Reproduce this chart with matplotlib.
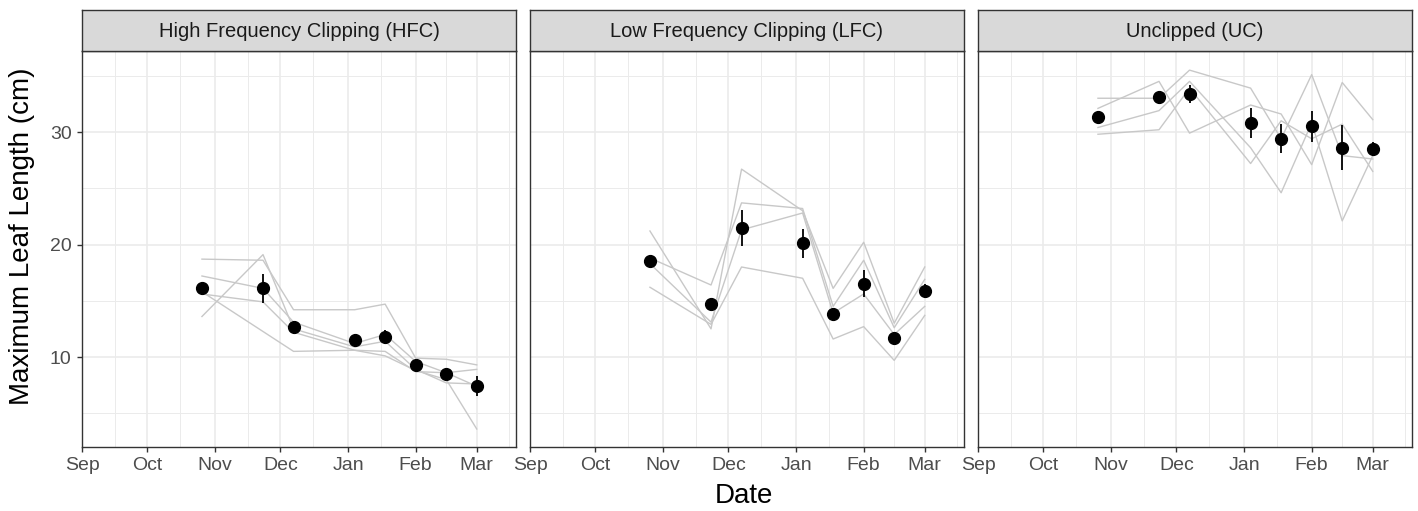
import matplotlib
matplotlib.use("Agg")
import matplotlib.pyplot as plt
import matplotlib.dates as mdates
import numpy as np
import pandas as pd

plt.rcParams["font.family"] = ["Liberation Sans", "DejaVu Sans"]

# sampling dates
dates = pd.to_datetime(["2017-10-26", "2017-11-23", "2017-12-07", "2018-01-04",
                        "2018-01-18", "2018-02-01", "2018-02-15", "2018-03-01"])

treatments = ["High Frequency Clipping (HFC)", "Low Frequency Clipping (LFC)", "Unclipped (UC)"]

# treatment means and standard errors
hfc_mean = [16.1, 16.1, 12.7, 11.5, 11.8, 9.3, 8.5, 7.4]
hfc_se = [0.5, 1.3, 0.4, 0.5, 0.6, 0.3, 0.3, 0.9]
lfc_mean = [18.5, 14.7, 21.5, 20.1, 13.8, 16.5, 11.7, 15.9]
lfc_se = [0.6, 0.5, 1.6, 1.3, 0.6, 1.2, 0.5, 0.6]
uc_mean = [31.3, 33.1, 33.4, 30.8, 29.4, 30.5, 28.6, 28.5]
uc_se = [0.4, 0.5, 0.8, 1.3, 1.3, 1.4, 2.0, 0.6]

# individual replicate traces (nan = not measured)
hfc_reps = [
    [18.7, 18.6, 14.2, 14.2, 14.7, 9.9, 9.8, 9.3],
    [17.2, 16.1, 13.1, 11.2, 12.0, 9.6, 8.6, 8.9],
    [13.6, 19.1, 12.5, 10.9, 11.4, 8.9, 7.7, 7.6],
    [15.6, 14.9, 12.2, 10.6, 10.5, 8.7, 8.6, 7.4],
    [15.8, np.nan, 10.5, 10.6, 10.1, 8.8, 8.0, 3.6],
]
lfc_reps = [
    [21.2, 12.5, 26.7, 23.0, 16.1, 20.2, 13.0, 18.0],
    [18.8, 16.4, 23.7, 23.2, 14.5, 18.6, 12.6, 16.9],
    [18.3, 13.1, 21.3, 22.8, 13.9, 15.6, 12.0, 14.5],
    [16.2, 12.9, 18.0, 17.0, 11.6, 12.7, 9.7, 13.7],
]
uc_reps = [
    [33.0, 33.0, 35.5, 33.9, 29.4, 35.1, 27.9, 27.6],
    [32.1, 34.5, 29.9, 32.4, 31.6, 27.1, 34.4, 31.1],
    [30.4, 31.9, 34.5, 28.6, 24.6, 30.8, 22.1, 27.9],
    [29.8, 30.2, 33.9, 27.2, 31.0, 29.4, 30.7, 26.5],
]

means = [hfc_mean, lfc_mean, uc_mean]
ses = [hfc_se, lfc_se, uc_se]
reps = [hfc_reps, lfc_reps, uc_reps]

major_x = pd.date_range("2017-09-01", "2018-03-01", freq="MS")
minor_x = pd.to_datetime(["2017-09-16", "2017-10-16", "2017-11-16", "2017-12-16",
                          "2018-01-16", "2018-02-15", "2018-03-16"])

W, H = 1418, 511
fig = plt.figure(figsize=(W / 100, H / 100), dpi=100)

lefts = [82, 530, 978]
pw = 434
top, bottom = 51, 447
strip_top = 10

for i, name in enumerate(treatments):
    l = lefts[i] / W
    ax = fig.add_axes([l, 1 - bottom / H, pw / W, (bottom - top) / H])
    sax = fig.add_axes([l, 1 - top / H, pw / W, (top - strip_top) / H])

    ax.set_xlim(pd.Timestamp("2017-09-01"), pd.Timestamp("2018-03-19"))
    ax.set_ylim(2.0, 37.2)
    ax.set_xticks(major_x)
    ax.set_xticks(minor_x, minor=True)
    ax.xaxis.set_major_formatter(mdates.DateFormatter("%b"))
    ax.set_yticks([10, 20, 30])
    ax.set_yticks([5, 15, 25, 35], minor=True)
    ax.grid(which="major", color="#EBEBEB", lw=1.2)
    ax.grid(which="minor", color="#EBEBEB", lw=0.7)
    ax.set_axisbelow(True)
    ax.tick_params(which="major", length=3.5, width=1.0, color="#333333",
                   labelsize=14, labelcolor="#4D4D4D", pad=4)
    ax.tick_params(which="minor", length=0)
    if i > 0:
        ax.tick_params(axis="y", labelleft=False, left=False)
    for s in ax.spines.values():
        s.set_color("#333333")
        s.set_linewidth(1.0)

    for r in reps[i]:
        s = pd.Series(r, index=dates).dropna()
        ax.plot(s.index, s.values, color="#C8C8C8", lw=1.0, zorder=2)

    m = np.array(means[i])
    e = np.array(ses[i])
    ax.vlines(dates, m - e, m + e, color="black", lw=1.3, zorder=3)
    ax.plot(dates, m, "o", color="black", ms=8.5, zorder=4)

    sax.set_xticks([])
    sax.set_yticks([])
    sax.set_facecolor("#D9D9D9")
    for s in sax.spines.values():
        s.set_color("#333333")
        s.set_linewidth(1.0)
    sax.text(0.5, 0.48, name, ha="center", va="center", fontsize=14.5,
             color="#1A1A1A", transform=sax.transAxes)

fig.text(22 / W, 1 - 236 / H, "Maximum Leaf Length (cm)", rotation=90,
         ha="center", va="center", fontsize=20, color="black")
fig.text(744 / W, 1 - 496 / H, "Date", ha="center", va="center",
         fontsize=20, color="black")

fig.savefig("out.png", dpi=100)
